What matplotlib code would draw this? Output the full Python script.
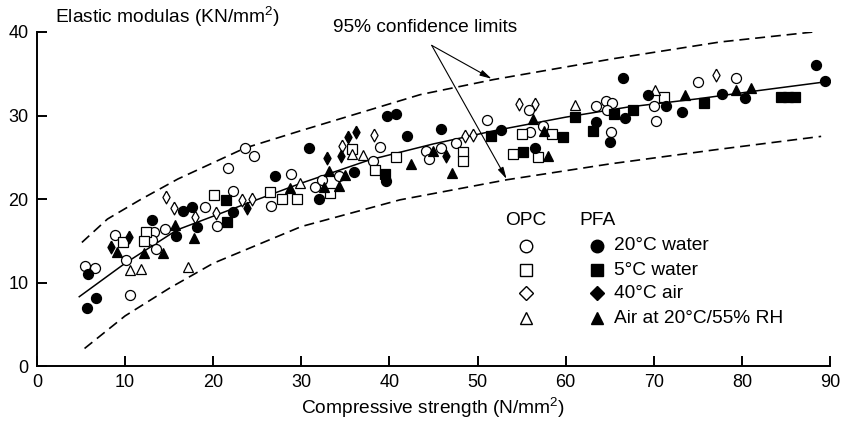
import matplotlib.pyplot as plt
import numpy as np

plt.rcParams['font.family'] = ['Liberation Sans', 'DejaVu Sans']
plt.rcParams['mathtext.fontset'] = 'custom'
plt.rcParams['mathtext.rm'] = 'Liberation Sans'

# OPC (open symbols)
opc_water20_x = [5.4, 6.6, 8.9, 10.1, 10.6, 13.3, 13.1, 13.5, 14.5, 19.1, 20.4, 22.3, 21.7, 23.6, 24.6,
                 26.6, 28.8, 31.6, 32.4, 34.3, 38.1, 38.9, 44.2, 44.5, 45.8, 47.6, 51.1, 55.8, 55.9,
                 57.4, 63.5, 64.6, 65.3, 64.7, 65.1, 70.0, 70.3, 75.0, 79.3]
opc_water20_y = [12.0, 11.7, 15.7, 12.7, 8.5, 16.0, 15.1, 14.0, 16.4, 19.0, 16.8, 21.0, 23.7, 26.1, 25.1,
                 19.2, 23.0, 21.4, 22.3, 22.8, 24.6, 26.2, 25.8, 24.8, 26.1, 26.7, 29.5, 30.7, 28.0,
                 28.7, 31.1, 31.7, 31.5, 30.6, 28.0, 31.1, 29.3, 34.0, 34.5]
opc_water5_x = [9.8, 12.4, 12.1, 20.1, 26.5, 27.8, 29.5, 33.3, 35.8, 38.4, 40.8, 48.3, 48.3, 54.0,
                55.0, 56.9, 58.5, 71.2]
opc_water5_y = [14.9, 16.0, 15.0, 20.5, 20.8, 20.0, 20.0, 20.7, 26.0, 23.5, 25.0, 25.6, 24.5, 25.4,
                27.8, 25.0, 27.8, 32.2]
opc_air40_x = [14.6, 15.5, 17.9, 20.3, 23.3, 24.4, 34.6, 38.2, 48.6, 49.5, 54.7, 56.5, 77.1]
opc_air40_y = [20.2, 18.9, 17.8, 18.3, 19.9, 20.0, 26.4, 27.7, 27.5, 27.7, 31.4, 31.4, 34.8]
opc_rh55_x = [10.6, 11.8, 17.1, 29.9, 35.8, 37.0, 61.1, 70.1]
opc_rh55_y = [11.5, 11.6, 11.9, 21.9, 25.4, 25.3, 31.3, 33.0]

# PFA (filled symbols)
pfa_water20_x = [5.8, 5.7, 6.7, 13.1, 15.8, 16.6, 17.6, 18.2, 22.3, 27.0, 30.9, 32.0, 36.0, 39.6,
                 39.7, 40.8, 42.0, 45.9, 52.7, 56.5, 63.5, 65.0, 66.5, 66.7, 69.4, 71.4, 73.2, 77.8,
                 80.4, 88.4, 89.4]
pfa_water20_y = [11.0, 6.9, 8.2, 17.5, 15.6, 18.6, 19.0, 16.7, 18.5, 22.7, 26.1, 20.0, 23.2, 22.2,
                 29.9, 30.2, 27.6, 28.4, 28.3, 26.1, 29.2, 26.8, 34.5, 29.7, 32.4, 31.1, 30.4, 32.6,
                 32.1, 36.1, 34.1]
pfa_water5_x = [21.4, 21.6, 39.5, 51.5, 55.2, 59.7, 61.1, 63.1, 65.5, 67.7, 75.7, 84.4, 85.2, 86.0]
pfa_water5_y = [19.9, 17.3, 23.0, 27.6, 25.6, 27.4, 29.8, 28.2, 30.2, 30.6, 31.5, 32.2, 32.2, 32.2]
pfa_air40_x = [8.4, 10.4, 23.8, 32.9, 34.5, 35.3, 36.2, 46.4]
pfa_air40_y = [14.3, 15.5, 18.9, 24.9, 25.2, 27.4, 28.0, 25.2]
pfa_rh55_x = [9.1, 12.2, 14.3, 15.7, 17.8, 28.7, 32.6, 33.2, 34.3, 35.0, 42.4, 45.0, 47.1, 56.3,
              57.5, 58.0, 73.6, 79.3, 81.0]
pfa_rh55_y = [13.6, 13.5, 13.5, 16.9, 15.3, 21.3, 21.4, 23.3, 21.6, 22.9, 24.2, 25.8, 23.1, 29.6,
              28.1, 25.1, 32.4, 33.0, 33.3]

# regression line and 95% confidence limits
fit_x = [4.8, 10, 15.9, 23.4, 30, 37.8, 45, 52, 60, 67, 75, 82, 90]
fit_y = [8.3, 12.3, 16.3, 19.3, 21.9, 24.7, 26.6, 28.2, 29.8, 31.0, 32.0, 33.0, 34.1]
upper_x = [5.1, 8, 11.7, 16, 23.6, 30, 43.5, 51.8, 65.4, 77.5, 88.1]
upper_y = [14.8, 17.6, 19.9, 22.4, 26.1, 28.2, 32.5, 34.3, 36.8, 38.8, 40.0]
lower_x = [5.4, 10, 15, 20, 30, 41.2, 53.3, 65, 77, 89]
lower_y = [2.1, 6.0, 9.3, 12.3, 16.7, 19.9, 22.3, 24.2, 25.9, 27.5]

labels = ['20°C water', '5°C water', '40°C air', 'Air at 20°C/55% RH']
# tall diamond like the original data symbols
diamond = [(0, 1), (0.56, 0), (0, -1), (-0.56, 0), (0, 1)]
markers = ['o', 's', diamond, '^']
sizes = [7.2, 6.5, 9.2, 7.0]
# legend symbols are a bit larger, diamonds are square there
leg_markers = ['o', 's', 'D', '^']
leg_sizes = [9.0, 8.4, 7.0, 9.2]
FS = 13.8

fig = plt.figure(figsize=(8.42, 4.21), dpi=100)
ax = fig.add_axes([0.0439, 0.1306, 0.9418, 0.7934])

ax.plot(fit_x, fit_y, color='black', lw=1.1, zorder=2)
ax.plot(upper_x, upper_y, color='black', lw=1.2, dashes=(6, 3.5), zorder=2)
ax.plot(lower_x, lower_y, color='black', lw=1.2, dashes=(6, 3.5), zorder=2)

opc = [(opc_water20_x, opc_water20_y), (opc_water5_x, opc_water5_y),
       (opc_air40_x, opc_air40_y), (opc_rh55_x, opc_rh55_y)]
pfa = [(pfa_water20_x, pfa_water20_y), (pfa_water5_x, pfa_water5_y),
       (pfa_air40_x, pfa_air40_y), (pfa_rh55_x, pfa_rh55_y)]

for (x, y), m, s in zip(opc, markers, sizes):
    ax.plot(x, y, ls='none', marker=m, ms=s, mfc='white', mec='black', mew=0.9, zorder=3)
for (x, y), m, s in zip(pfa, markers, sizes):
    ax.plot(x, y, ls='none', marker=m, ms=s, mfc='black', mec='black', mew=0.9, zorder=4)

# legend drawn by hand (two columns with headers)
rows = [0.360, 0.287, 0.218, 0.143]
ax.text(0.6166, 0.437, 'OPC', transform=ax.transAxes, ha='center', va='center', fontsize=FS)
ax.text(0.7074, 0.437, 'PFA', transform=ax.transAxes, ha='center', va='center', fontsize=FS)
for r, m, s, lab in zip(rows, leg_markers, leg_sizes, labels):
    ax.plot([0.6166], [r], transform=ax.transAxes, marker=m, ms=s, mfc='white', mec='black',
            mew=1.0, ls='none')
    ax.plot([0.7058], [r], transform=ax.transAxes, marker=m, ms=s, mfc='black', mec='black',
            mew=1.0, ls='none')
    ax.text(0.728, r, lab, transform=ax.transAxes, ha='left', va='center', fontsize=FS)

# confidence limit annotation
ax.text(33.6, 40.5, '95% confidence limits', ha='left', va='center', fontsize=FS)
arrow = dict(arrowstyle='-|>,head_length=0.7,head_width=0.18', color='black', lw=0.8,
             shrinkA=0, shrinkB=0)
ax.annotate('', xy=(51.6, 34.4), xytext=(44.8, 38.4), arrowprops=arrow)
ax.annotate('', xy=(53.3, 22.4), xytext=(44.8, 38.4), arrowprops=arrow)

ax.set_xlim(0, 90)
ax.set_ylim(0, 40)
ax.set_xticks(np.arange(0, 91, 10))
ax.set_yticks(np.arange(0, 41, 10))
ax.spines['top'].set_visible(False)
ax.spines['right'].set_visible(False)
ax.spines['left'].set_linewidth(1.4)
ax.spines['bottom'].set_linewidth(1.4)
ax.tick_params(direction='in', length=7, width=1.4, labelsize=13, pad=6)
ax.set_xlabel('Compressive strength (N/mm$^2$)', fontsize=FS, labelpad=3)
ax.text(0.023, 1.045, 'Elastic modulas (KN/mm$^2$)', transform=ax.transAxes,
        ha='left', va='center', fontsize=FS)

fig.savefig('out.png', dpi=100)
